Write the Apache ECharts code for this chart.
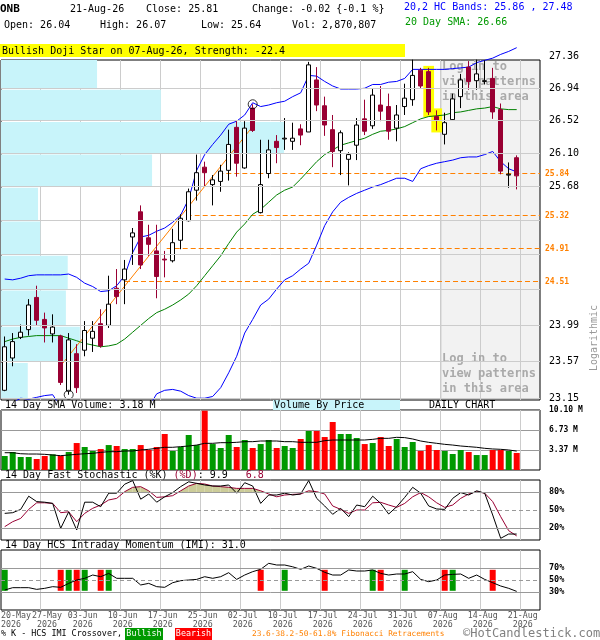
<!DOCTYPE html>
<html><head><meta charset="utf-8">
<script src="https://cdn.jsdelivr.net/npm/echarts@6/dist/echarts.min.js"></script>
<style>html,body{margin:0;padding:0;background:#fff}#c{width:600px;height:640px}</style>
</head><body><div id="c"></div>
<script>
const dates = ['20-May','21-May','22-May','26-May','27-May','28-May','29-May',
 '01-Jun','02-Jun','03-Jun','04-Jun','05-Jun','08-Jun','09-Jun','10-Jun','11-Jun','12-Jun','15-Jun','16-Jun','17-Jun','18-Jun','22-Jun','23-Jun','24-Jun','25-Jun','26-Jun','29-Jun','30-Jun',
 '01-Jul','02-Jul','06-Jul','07-Jul','08-Jul','09-Jul','10-Jul','13-Jul','14-Jul','15-Jul','16-Jul','17-Jul','20-Jul','21-Jul','22-Jul','23-Jul','24-Jul','27-Jul','28-Jul','29-Jul','30-Jul','31-Jul',
 '03-Aug','04-Aug','05-Aug','06-Aug','07-Aug','10-Aug','11-Aug','12-Aug','13-Aug','14-Aug','17-Aug','18-Aug','19-Aug','20-Aug','21-Aug'];
const open = [23.24,23.61,23.85,23.94,24.32,24.06,23.89,23.865,23.23,23.66, 23.70,23.84,24.01,23.99,24.43,24.53,25.05,25.36,25.04,24.88,
 24.78,24.76,25.01,25.25,25.63,25.92,25.70,25.74,25.88,26.43, 25.91,26.68,25.35,25.84,26.25,26.28,26.25,26.41,26.37,27.05,
 26.71,26.40,26.13,26.02,26.20,26.54,26.45,26.72,26.70,26.42, 26.70,26.79,27.18,27.16,26.57,26.34,26.53,26.83,27.22,27.04,
 27.03,27.07,26.66,25.82,26.04];
const close = [23.74,23.80,23.91,24.23,24.05,23.96,23.97,23.33,23.82,23.27, 23.93,23.92,23.75,24.24,24.33,24.66,25.10,24.71,24.96,24.57,
 24.77,24.98,25.28,25.61,25.85,25.85,25.76,25.87,26.21,25.97, 26.42,26.39,25.70,26.14,26.17,26.29,26.29,26.33,27.25,26.72,
 26.46,26.12,26.36,26.08,26.46,26.38,26.85,26.64,26.38,26.59, 26.81,27.11,26.97,26.63,26.52,26.49,26.80,27.05,27.03,27.13,
 27.04,26.63,25.87,25.83,25.81];
const high = [23.86,23.90,24.00,24.30,24.46,24.14,24.12,23.88,23.90,23.77, 24.04,24.04,24.18,24.58,24.66,24.77,25.16,25.44,25.20,25.20,
 24.88,25.15,25.33,25.65,26.08,25.99,25.82,25.95,26.40,26.51, 26.51,26.73,26.27,26.27,26.33,26.55,26.49,26.47,27.29,27.22,
 26.83,26.59,26.39,26.11,26.55,26.79,26.93,26.97,26.87,26.72, 27.00,27.32,27.21,27.21,26.65,26.62,26.87,27.13,27.30,27.32,
 27.31,27.21,26.74,25.98,26.07];
const low = [23.23,23.515,23.83,23.87,23.99,23.79,23.79,23.30,23.19,23.21, 23.63,23.68,23.73,23.96,24.24,24.24,24.71,24.66,24.82,24.31,
 24.56,24.74,24.90,25.24,25.50,25.67,25.44,25.61,25.75,25.80, 25.90,26.37,25.34,25.78,25.97,26.14,26.14,26.20,26.37,26.64,
 26.32,25.92,25.82,25.69,26.01,26.33,26.41,26.51,26.27,26.25, 26.59,26.71,26.94,26.59,26.39,26.21,26.52,26.68,26.92,26.92,
 26.99,26.54,25.83,25.66,25.64];
const upperBand = [24.54,24.53,24.55,24.58,24.59,24.59,24.59,24.59,24.60,24.56, 24.49,24.45,24.39,24.40,24.46,24.58,24.86,25.05,25.07,25.12,
 25.16,25.23,25.32,25.52,25.88,26.08,26.21,26.33,26.47,26.51, 26.59,26.75,26.70,26.72,26.75,26.77,26.83,26.88,27.11,27.10,
 27.03,26.97,26.93,26.93,26.93,26.94,26.99,26.99,27.02,27.03, 27.07,27.19,27.19,27.19,27.19,27.19,27.20,27.21,27.22,27.28,
 27.31,27.34,27.39,27.43,27.48];
const lowerBand = [23.05,23.10,23.15,23.14,23.16,23.18,23.19,23.05,22.95,22.90, 22.85,22.80,22.75,22.75,22.80,22.85,22.90,22.95,23.05,23.20,
 23.24,23.25,23.23,23.18,23.15,23.15,23.17,23.27,23.44,23.63, 23.90,24.06,24.23,24.30,24.42,24.53,24.58,24.66,24.73,24.95,
 25.19,25.36,25.48,25.54,25.59,25.63,25.67,25.70,25.74,25.78, 25.78,25.74,25.90,25.94,25.97,25.99,26.01,26.04,26.05,26.05,
 26.08,26.12,25.99,25.90,25.86];
const sma20 = [23.80,23.83,23.85,23.86,23.87,23.87,23.87,23.87,23.84,23.81, 23.78,23.76,23.74,23.75,23.77,23.83,23.91,23.99,24.07,24.14,
 24.18,24.23,24.29,24.36,24.46,24.58,24.70,24.82,24.97,25.11, 25.21,25.33,25.39,25.48,25.57,25.63,25.67,25.77,25.88,25.99,
 26.08,26.14,26.20,26.23,26.26,26.29,26.34,26.38,26.39,26.41, 26.44,26.49,26.54,26.57,26.58,26.59,26.62,26.63,26.65,26.67,
 26.68,26.70,26.67,26.66,26.66];
const volume = [2.36,3.03,2.19,2.19,1.85,2.36,2.64,2.36,3.03,4.54, 3.87,3.2,3.53,4.2,4.04,3.53,3.53,4.2,3.37,3.87,
 6.06,3.2,3.87,5.89,4.2,9.98,4.37,3.7,5.89,3.87, 5.05,3.7,4.37,5.05,3.7,4.04,3.7,5.22,6.57,6.57,
 5.55,8.08,6.06,6.06,5.39,4.37,4.54,5.55,4.04,5.22, 3.87,4.71,3.2,4.2,3.37,3.2,2.69,3.37,3.03,2.52,
 2.52,3.37,3.37,3.2,2.87];
const volSma = [2.91,2.91,2.74,2.69,2.69,2.64,2.52,2.41,2.52,2.64, 2.74,2.8,2.97,3.08,3.08,3.2,3.2,3.37,3.48,3.65,
 3.82,3.82,3.93,4.04,4.2,4.49,4.49,4.6,4.6,4.66, 4.77,4.77,4.88,4.88,4.88,4.77,4.77,4.66,4.66,4.66,
 4.94,5.05,5.05,5.05,5.05,5.05,5.16,5.33,5.33,5.5, 5.45,5.22,4.88,4.66,4.49,4.32,4.2,4.04,3.93,3.82,
 3.65,3.54,3.48,3.37,3.18];
const stochK = [44.4,45.5,51,73,64,63,61,19.4,47,16.7, 63,63,55.5,78,78,93,99,68,76.7,63,
 72,79,89,97,94.4,91.7,90,90,91.7,78, 95.5,90,61,75,75,78,75,76.7,99,69.4,
 56.7,42.8,52.8,38.9,58.3,55.5,73,61,43.3,55.5, 71,87.8,78,56.7,51.7,51,69.4,79,75,82,
 78,41.7,2.8,10,9.9];
const stochD = [22.2,30.5,36,51,62,62,61,45.5,47,30.5, 44.4,52.8,58.3,66.7,69.4,80.5,87.8,88.9,82,71,
 72,73.9,82,90,94.4,93.3,90,88.9,87.8,86, 86,86,82,76.7,72,75,76,76.7,82,80.5,
 76.7,56.7,51,44.4,50,50,62,62.8,58.3,54.4, 61,72,79,72,62,54.4,58.3,69.4,76.7,80.5,
 78,64,38.9,15.5,6.8];
const imi = [33.3,37.2,37.2,37.2,34.4,36.1,38.9,37.8,44.4,50, 52.8,58.3,55.5,61,52.8,52.8,52.8,41.7,44.4,38.9,
 37.8,45.5,48.9,50,51,55.5,52.8,55.5,62.2,51, 58.3,63.9,67.8,77.8,75,75,72,67.8,73.3,69.4,
 62.8,58.3,58.3,66.7,65,65,66.7,61,58.3,60, 60,63.9,51,47.2,50,58.3,59.4,60,52.8,58.3,
 51,45.5,40,36.1,31.0];
const bullishIdx = [0, 8, 10, 13, 35, 46, 50, 56];
const bearishIdx = [7, 9, 12, 32, 40, 47, 55, 61];
const patternIdx = [53, 54];
const priceGrid = [27.36, 26.94, 26.52, 26.10, 25.68, 25.26, 24.84, 24.42, 23.99, 23.57, 23.15];
const priceTickLabels = ['27.36','26.94','26.52','26.10','25.68','','','','23.99','23.57','23.15'];
const vbp = [26.2, 43.6, 77.2, 41.2, 10.1, 10.7, 18.2, 17.7, 21.5, 7.3];
const fibLevels = [25.84, 25.32, 24.91, 24.51];
const fibStart = [26.7, 22.75, 20.25, 15.04];
const trendLine = [[7, 23.52], [31, 26.44]];
const pivotLowIdx = 8, pivotHighIdx = 31;
const lockedFromDate = '10-Aug';
const xLabelIdx = [0, 4, 9, 14, 19, 24, 29, 34, 39, 44, 49, 54, 59, 64];
const volTicks = [3.37, 6.73, 10.10];
const stochTicks = [20, 50, 80];
const imiTicks = [30, 50, 70];

const MONO = "'DejaVu Sans Mono', monospace";
const XMIN = -0.4625, XMAX = 66.9125;
const gridTicks = []; for (let k = 4.5; k < 65; k += 5) gridTicks.push(k);
// label anchors: first label hugs the left edge, second nudged clear of it, rest sit on the gridlines
const labelTicks = [XMIN, gridTicks[0] + 0.8].concat(gridTicks.slice(1).map(g => g + 0.25));
const xTickLabels = xLabelIdx.map(i => dates[i]);
const UP = '#ffffff', DOWN = '#990033', ORANGE = '#ff8000';

const grids = [
  {left:1, top:60, width:539, height:340},
  {left:1, top:410, width:539, height:60},
  {left:1, top:480, width:539, height:60},
  {left:1, top:550, width:539, height:60}
].map(g => Object.assign(g, {show:true, borderColor:'#000', borderWidth:1, backgroundColor:'transparent', containLabel:false, outerBoundsMode:'none'}));

function nearestLabel(v) {
  let best = 0;
  labelTicks.forEach((t, k) => { if (Math.abs(t - v) < Math.abs(labelTicks[best] - v)) best = k; });
  return xTickLabels[best];
}
const xAxes = [0,1,2,3].map(gi => ({
  type:'value', gridIndex:gi, min:XMIN, max:XMAX,
  axisLine:{show:false}, axisTick:{show:false, customValues:gridTicks},
  splitLine:{show:true, lineStyle:{color:'#cccccc', width:1}},
  axisLabel: gi === 3 ? {show:true, customValues:labelTicks, showMinLabel:true, showMaxLabel:true,
    formatter: v => nearestLabel(v) + '\n2026',
    fontFamily:MONO, fontSize:8.3, lineHeight:9, color:'#555', margin:1, alignMinLabel:'left'} : {show:false}
}));
xAxes.push({type:'value', gridIndex:0, min:0, max:147, show:false});

const pctLabel = {fontFamily:MONO, fontSize:8.5, fontWeight:'bold', color:'#000', margin:9};
const yAxes = [
  {type:'log', logBase:10, gridIndex:0, min:23.13, max:27.315, show:false},
  {type:'value', gridIndex:1, min:0, max:10.1, position:'right', axisLine:{show:false},
   axisTick:{show:false, customValues:volTicks},
   axisLabel:Object.assign({customValues:volTicks, formatter: v => v.toFixed(2) + ' M'}, pctLabel, {fontSize:8}),
   splitLine:{show:true, lineStyle:{color:'#999'}}},
  {type:'value', gridIndex:2, min:0, max:100, position:'right', axisLine:{show:false},
   axisTick:{show:false, customValues:stochTicks},
   axisLabel:Object.assign({customValues:stochTicks, formatter: v => v + '%'}, pctLabel), splitLine:{show:false}},
  {type:'value', gridIndex:3, min:0, max:100, position:'right', axisLine:{show:false},
   axisTick:{show:false, customValues:imiTicks},
   axisLabel:Object.assign({customValues:imiTicks, formatter: v => v + '%'}, pctLabel), splitLine:{show:false}}
];

const idx = a => a.map((v, i) => [i, v]);
const levelLines = (levels) => ({
  silent:true, symbol:['none','none'], animation:false, label:{show:false},
  data: levels.map(v => ({yAxis:v, lineStyle:{color:'#999', width:1, type: v === 50 ? [4,3] : 'solid'}}))
});

function crossBar(color) {
  return (params, api) => {
    const i = api.value(0);
    const t = api.coord([i, 67]);
    const b = api.coord([i, 32]);
    const w = api.size([1, 0], [i, 50])[0] * 0.75;
    return {type:'rect', shape:{x:t[0]-w/2, y:t[1], width:w, height:b[1]-t[1]}, style:{fill:color}};
  };
}
const OB = stochTicks[2];
function obFill(params, api) {
  const i = api.value(0), a = api.value(1), b = api.value(2);
  if (a <= OB && b <= OB) return {type:'group', children:[]};
  const p1 = api.coord([i, a]), p2 = api.coord([i + 1, b]);
  const base = api.coord([i, OB])[1];
  let pts;
  if (a >= OB && b >= OB) pts = [[p1[0], base], p1, p2, [p2[0], base]];
  else {
    const t = (a - OB) / (a - b);
    const xc = p1[0] + t * (p2[0] - p1[0]);
    pts = a > OB ? [[p1[0], base], p1, [xc, base]] : [[xc, base], p2, [p2[0], base]];
  }
  return {type:'polygon', shape:{points:pts}, style:{fill:'#cccc99'}};
}
function fibLine(params, api) {
  const cs = params.coordSys;
  const lvl = api.value(1);
  const p = api.coord([api.value(0), lvl]);
  const y = Math.round(p[1] - 0.5) + 0.5;   // pixel-crisp 1px dashed line
  const x2 = cs.x + cs.width;
  return {type:'group', children:[
    {type:'line', shape:{x1:p[0], y1:y, x2:x2, y2:y}, style:{stroke:ORANGE, lineWidth:1, lineDash:[5,3]}},
    {type:'text', style:{text:lvl.toFixed(2), x:x2 + 5, y:y, fill:ORANGE, font:'bold 8px ' + MONO, align:'left', verticalAlign:'middle'}}
  ]};
}

const series = [
  { // locked area
    type:'custom', xAxisIndex:0, yAxisIndex:0, z:-1, silent:true,
    data:[[dates.indexOf(lockedFromDate) - 0.5]], encode:{x:0},
    renderItem:(params, api) => {
      const cs = params.coordSys;
      const x0 = api.coord([api.value(0), 25])[0];
      return {type:'group', children:[
        {type:'rect', shape:{x:x0, y:cs.y, width:cs.x+cs.width-x0, height:cs.height}, style:{fill:'#f2f2f2'}},
        {type:'line', shape:{x1:x0, y1:cs.y, x2:x0, y2:cs.y+cs.height}, style:{stroke:'#999', lineWidth:1}}
      ]};
    }
  },
  { // volume by price + price gridlines
    type:'custom', xAxisIndex:4, yAxisIndex:0, z:1, silent:true, clip:true,
    data: vbp.map((v, k) => [v, priceGrid[k], priceGrid[k+1]]), encode:{x:0, y:[1,2]},
    renderItem:(params, api) => {
      const a = api.coord([0, api.value(1)]);
      const b = api.coord([api.value(0), api.value(2)]);
      return {type:'rect', shape:{x:a[0], y:a[1]+1.5, width:b[0]-a[0], height:b[1]-a[1]-1.5}, style:{fill:'#c8f4fa'}};
    },
    markLine:{silent:true, symbol:['none','none'], animation:false,
      lineStyle:{color:'#cccccc', width:1, type:'solid'},
      label:{position:'end', distance:9, color:'#000', fontFamily:MONO, fontSize:10, formatter:'{b}'},
      data: priceGrid.map((p, k) => ({name:priceTickLabels[k], yAxis:p,
        label:{show:priceTickLabels[k] !== ''}, lineStyle: p > 27.315 ? {opacity:0} : {color:'#cccccc'}}))
    }
  },
  { // pattern highlight
    type:'custom', xAxisIndex:0, yAxisIndex:0, z:1.5, silent:true,
    data: patternIdx.map(i => [i, high[i], low[i]]), encode:{x:0, y:[1,2]},
    renderItem:(params, api) => {
      const t = api.coord([api.value(0), api.value(1)]);
      const b = api.coord([api.value(0), api.value(2)]);
      const w = api.size([1, 0], [api.value(0), api.value(1)])[0] * 1.34;
      return {type:'rect', shape:{x:t[0]-w/2, y:t[1]-2, width:w, height:b[1]-t[1]+4}, style:{fill:'#ffff00'}};
    }
  },
  {type:'line', xAxisIndex:0, yAxisIndex:0, z:2, data:idx(upperBand), symbol:'none', clip:false, lineStyle:{color:'#0000ff', width:1}},
  {type:'line', xAxisIndex:0, yAxisIndex:0, z:2, data:idx(lowerBand), symbol:'none', clip:true, lineStyle:{color:'#0000ff', width:1}},
  {type:'line', xAxisIndex:0, yAxisIndex:0, z:2, data:idx(sma20), symbol:'none', lineStyle:{color:'#008000', width:1}},
  {type:'line', xAxisIndex:0, yAxisIndex:0, z:2, data:trendLine, symbol:'none', lineStyle:{color:ORANGE, width:1}},
  {type:'custom', xAxisIndex:0, yAxisIndex:0, z:2, silent:true,
   data: fibLevels.map((v, k) => [fibStart[k], v]), encode:{x:0, y:1}, renderItem: fibLine},
  {type:'candlestick', xAxisIndex:0, yAxisIndex:0, z:3, barWidth:5,
   data: dates.map((d, i) => [i, open[i], close[i], low[i], high[i]]),
   itemStyle:{color:UP, color0:DOWN, borderColor:'#000', borderColor0:DOWN, borderWidth:1}},
  {type:'scatter', xAxisIndex:0, yAxisIndex:0, z:4, symbol:'circle', symbolSize:9,
   data:[[pivotLowIdx, low[pivotLowIdx]], [pivotHighIdx, high[pivotHighIdx]]],
   itemStyle:{color:'rgba(0,0,0,0)', borderColor:'#000', borderWidth:1}},
  // volume
  {type:'bar', xAxisIndex:1, yAxisIndex:1, z:2, barWidth:6,
   data: volume.map((v, i) => ({value:[i, v], itemStyle:{color: close[i] >= open[i] ? '#009900' : '#ff0000'}}))},
  {type:'line', xAxisIndex:1, yAxisIndex:1, z:3, data:idx(volSma), symbol:'none', lineStyle:{color:'#000', width:1}},
  // stochastic
  {type:'custom', xAxisIndex:2, yAxisIndex:2, z:1, silent:true,
   data: stochD.slice(0, -1).map((v, i) => [i, v, stochD[i + 1]]), encode:{x:0, y:[1,2]}, renderItem: obFill},
  {type:'line', xAxisIndex:2, yAxisIndex:2, z:2, data:idx(stochD), symbol:'none', lineStyle:{color:'#990033', width:1}},
  {type:'line', xAxisIndex:2, yAxisIndex:2, z:3, data:idx(stochK), symbol:'none', lineStyle:{color:'#000', width:1},
   markLine: levelLines(stochTicks)},
  // IMI
  {type:'custom', xAxisIndex:3, yAxisIndex:3, z:1, silent:true, data: bullishIdx.map(i => [i]), encode:{x:0}, renderItem: crossBar('#009900')},
  {type:'custom', xAxisIndex:3, yAxisIndex:3, z:1, silent:true, data: bearishIdx.map(i => [i]), encode:{x:0}, renderItem: crossBar('#ff0000')},
  {type:'line', xAxisIndex:3, yAxisIndex:3, z:2, data:idx(imi), symbol:'none', lineStyle:{color:'#000', width:1},
   markLine: levelLines(imiTicks)}
];

function txt(x, y, text, o) {
  o = o || {};
  return {type:'text', z: o.z != null ? o.z : 10, x:x, y:y, rotation: o.rot || 0,
    style:{text:text, fill:o.color || '#000',
      font: (o.weight || 'normal') + ' ' + (o.size || 10) + 'px ' + MONO,
      align:o.align || 'left', verticalAlign:'middle'}};
}
function box(x, y, w, h, fill, z) {
  return {type:'rect', z: z != null ? z : 9, shape:{x:x, y:y, width:w, height:h}, style:{fill:fill}};
}
const last = dates.length - 1;
const chg = close[last] - close[last-1];
const richFont = '10px ' + MONO;
const grayTxt = {weight:'bold', size:12, color:'#aaaaaa', z:1};
const elements = [
  txt(0, 9, 'ONB', {weight:'bold', size:11}),
  txt(70, 9, '21-Aug-26'),
  txt(146, 9, 'Close: ' + close[last].toFixed(2)),
  txt(252, 9, 'Change: ' + chg.toFixed(2) + ' {' + (chg / close[last-1] * 100).toFixed(1) + ' %}'),
  txt(404, 7, '20,2 HC Bands: ' + lowerBand[last].toFixed(2) + ' , ' + upperBand[last].toFixed(2), {color:'#0000ff'}),
  txt(4, 25, 'Open: ' + open[last].toFixed(2)),
  txt(100, 25, 'High: ' + high[last].toFixed(2)),
  txt(201, 25, 'Low: ' + low[last].toFixed(2)),
  txt(292, 25, 'Vol: 2,870,807'),
  txt(405, 22, '20 Day SMA: ' + sma20[last].toFixed(2), {color:'#009900'}),
  box(0, 44, 405, 13, '#ffff00'),
  txt(2, 51, 'Bullish Doji Star on 07-Aug-26, Strength: -22.4'),
  txt(442, 67, 'Log in to', grayTxt),
  txt(442, 82, 'view patterns', grayTxt),
  txt(442, 97, 'in this area', grayTxt),
  txt(442, 359, 'Log in to', grayTxt),
  txt(442, 374, 'view patterns', grayTxt),
  txt(442, 389, 'in this area', grayTxt),
  txt(594, 338, 'Logarithmic', {color:'#999', rot:Math.PI/2, align:'center'}),
  txt(5, 405, '14 Day SMA Volume: ' + volSma[last].toFixed(2) + ' M'),
  box(273, 400, 127, 10, '#c8f4fa'),
  txt(274, 405, 'Volume By Price'),
  txt(429, 405, 'DAILY CHART'),
  {type:'text', z:10, x:5, y:475, style:{
    text:'{a|14 Day Fast Stochastic (%K) }{b|(%D)}{a|: ' + stochK[last].toFixed(1) + '   }{b|' + stochD[last].toFixed(1) + '}',
    rich:{a:{fill:'#000', font:richFont}, b:{fill:'#990033', font:richFont}}, verticalAlign:'middle', font:richFont}},
  txt(5, 545, '14 Day HCS Intraday Momentum (IMI): ' + imi[last].toFixed(1)),
  txt(1, 634, '% K - HCS IMI Crossover,', {size:8.4}),
  box(125, 628, 38, 12, '#009900'),
  txt(144, 634, 'Bullish', {size:8.4, color:'#fff', align:'center'}),
  box(175, 628, 37, 12, '#ff0000'),
  txt(193.5, 634, 'Bearish', {size:8.4, color:'#fff', align:'center'}),
  txt(252, 634, '23.6-38.2-50-61.8% Fibonacci Retracements', {size:7.8, color:ORANGE}),
  txt(463, 634, '\u00A9HotCandlestick.com', {size:12, color:'#808080'})
];

const option = {
  animation:false, backgroundColor:'#fff', textStyle:{fontFamily:MONO},
  grid:grids, xAxis:xAxes, yAxis:yAxes, series:series,
  graphic:{elements:elements}
};
const chart = echarts.init(document.getElementById('c'), null, {renderer:'canvas'});
chart.setOption(option);
// top price tick (above the plotted range) placed through the price scale
const topY = chart.convertToPixel({yAxisIndex:0}, priceGrid[0]);
const rightX = chart.convertToPixel({xAxisIndex:0}, XMAX);
elements.push(txt(rightX + 9, topY, priceTickLabels[0]));
chart.setOption({graphic:{elements:elements}});
</script></body></html>
